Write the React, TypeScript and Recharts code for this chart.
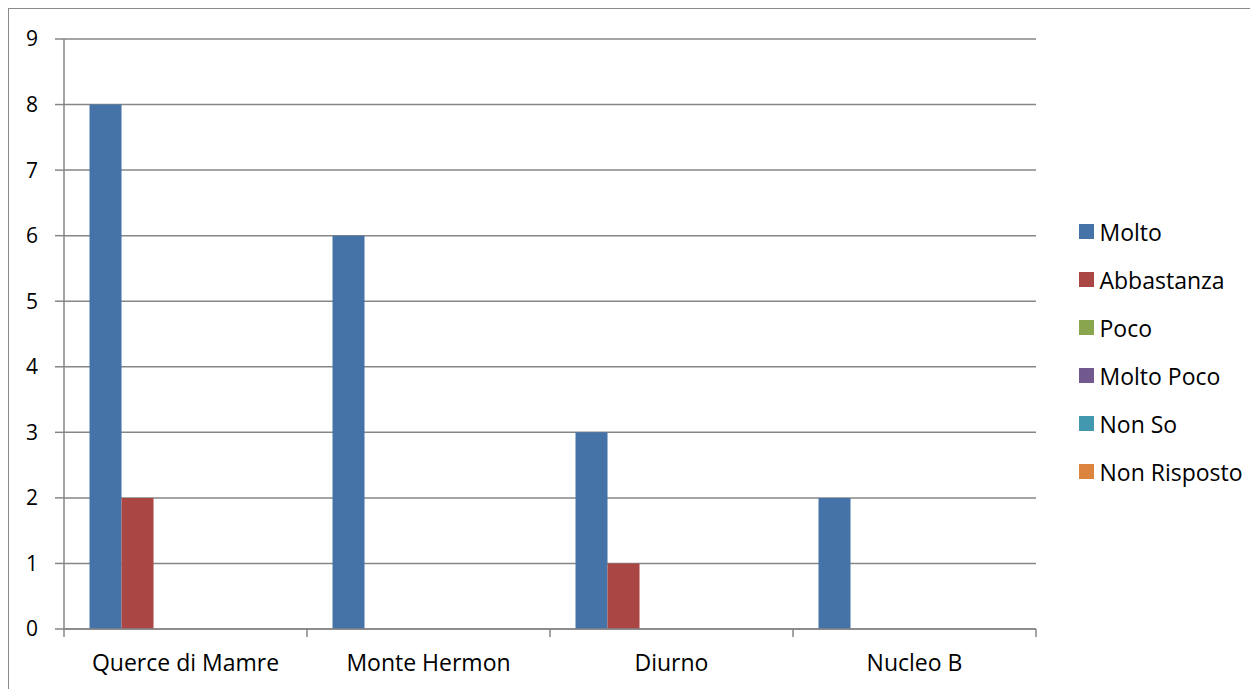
import { BarChart, Bar, XAxis, YAxis, CartesianGrid } from 'recharts'

const categories = ['Querce di Mamre', 'Monte Hermon', 'Diurno', 'Nucleo B']
const molto = [8, 6, 3, 2]
const abbastanza = [2, 0, 1, 0]
const poco = [0, 0, 0, 0]
const moltoPoco = [0, 0, 0, 0]
const nonSo = [0, 0, 0, 0]
const nonRisposto = [0, 0, 0, 0]
const yTicks = [0, 1, 2, 3, 4, 5, 6, 7, 8, 9]

const SERIES = [
  { key: 'molto', name: 'Molto', color: '#4572A7', values: molto },
  { key: 'abbastanza', name: 'Abbastanza', color: '#AA4643', values: abbastanza },
  { key: 'poco', name: 'Poco', color: '#89A54E', values: poco },
  { key: 'moltoPoco', name: 'Molto Poco', color: '#71588F', values: moltoPoco },
  { key: 'nonSo', name: 'Non So', color: '#4198AF', values: nonSo },
  { key: 'nonRisposto', name: 'Non Risposto', color: '#DB843D', values: nonRisposto },
]

const data = categories.map((name, i) => {
  const row: Record<string, string | number> = { name }
  SERIES.forEach(s => { row[s.key] = s.values[i] })
  return row
})

const FONT = '"Open Sans", "Liberation Sans", sans-serif'
const GRID = '#868686'

function CatTick(props: any) {
  const { x, y, payload, index, visibleTicksCount } = props
  const half = payload.offset ?? 0
  const isLast = index === visibleTicksCount - 1
  return (
    <g>
      <line x1={x - half} x2={x - half} y1={y} y2={y + 8} stroke={GRID} strokeWidth={1.5} />
      {isLast && <line x1={x + half} x2={x + half} y1={y} y2={y + 8} stroke={GRID} strokeWidth={1.5} />}
      <text x={x} y={y + 42} textAnchor="middle" fill="#000" fontSize={23} fontFamily={FONT}>
        {payload.value}
      </text>
    </g>
  )
}

function LegendBox() {
  return (
    <div style={{ position: 'absolute', left: 1069.5, top: 198.5, fontFamily: FONT, fontSize: 23, color: '#000' }}>
      {SERIES.map(s => (
        <div key={s.key} style={{ display: 'flex', alignItems: 'center', height: 48, whiteSpace: 'nowrap' }}>
          <span style={{ width: 15, height: 15, background: s.color, marginRight: 6, flexShrink: 0 }} />
          <span>{s.name}</span>
        </div>
      ))}
    </div>
  )
}

export default function App() {
  return (
    <div style={{ width: 1250, height: 681, borderLeft: '1.5px solid #8a8a8a', borderTop: '1.5px solid #8a8a8a', boxSizing: 'border-box', position: 'relative' }}>
      <div style={{ position: 'absolute', left: -1.5, top: -1.5 }}>
        <BarChart width={1250} height={681} data={data}
          margin={{ top: 31, right: 222, bottom: 20, left: 0 }}
          barGap={0} barCategoryGap="10.5%">
          <CartesianGrid vertical={false} stroke={GRID} strokeWidth={1.5} />
          <YAxis domain={[0, 9]} ticks={yTicks} width={56} interval={0}
            axisLine={{ stroke: GRID, strokeWidth: 1.5 }}
            tickLine={{ stroke: GRID, strokeWidth: 1.5 }}
            tickSize={9} tickMargin={17}
            tick={{ fill: '#000', fontSize: 21, fontFamily: FONT }} />
          <XAxis dataKey="name" height={40} interval={0}
            axisLine={{ stroke: GRID, strokeWidth: 1.5 }}
            tickLine={false} tickSize={0} tickMargin={0}
            tick={<CatTick />} />
          {SERIES.map(s => (
            <Bar key={s.key} dataKey={s.key} name={s.name} fill={s.color} isAnimationActive={false} />
          ))}
        </BarChart>
      </div>
      <LegendBox />
    </div>
  )
}
